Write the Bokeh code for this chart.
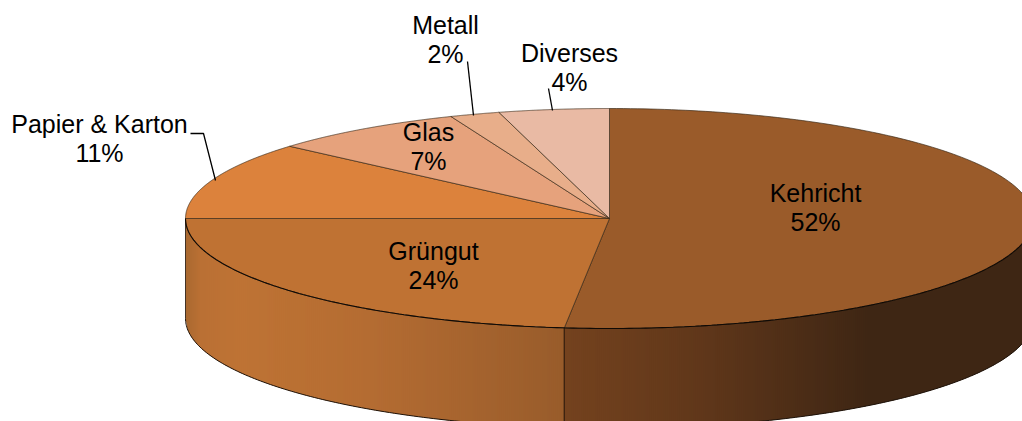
import numpy as np
from bokeh.plotting import figure
from bokeh.models import Range1d
from bokeh.core.properties import value
from bokeh.embed import file_html
from bokeh.resources import INLINE

categories = ["Kehricht", "Grüngut", "Papier & Karton", "Glas", "Metall", "Diverses"]
shares = [51.7, 23.3, 11.4, 7.5, 1.9, 4.2]
percent_labels = ["52%", "24%", "11%", "7%", "2%", "4%"]
top_colors = ["#9a5b2a", "#bf7233", "#dc823c", "#e6a27c", "#e8ae8a", "#e9baa4"]

label_x = [815, 433, 99, 428, 445, 569]
label_y = [192, 250, 123, 131, 24, 52]
line_gap = 29
leaders = [([190, 203, 215], [133, 133, 180]), ([467, 473], [61, 115]), ([548, 552], [88, 110])]

CX, CY, RX, RY, DEPTH = 609, 218, 424, 110, 100
grad_left = [(186, (170, 105, 48)), (200, (186, 112, 52)), (240, (190, 115, 52)), (370, (180, 108, 50)), (565, (152, 92, 43))]
grad_right = [(565, (116, 66, 30)), (700, (96, 55, 26)), (870, (62, 38, 20)), (1033, (62, 38, 20))]


def hexcol(c):
    return "#%02x%02x%02x" % tuple(int(round(v)) for v in c)


def grad(stops, x):
    xs = [s[0] for s in stops]
    return [np.interp(x, xs, [s[1][i] for s in stops]) for i in range(3)]


def lower(x):
    return CY + RY * np.sqrt(np.clip(1 - ((x - CX) / RX) ** 2, 0, 1))


p = figure(width=1022, height=421, x_range=Range1d(0, 1022), y_range=Range1d(421, 0),
           output_backend="svg", toolbar_location=None, min_border=0, outline_line_color=None)
p.axis.visible = False
p.grid.visible = False
p.background_fill_color = "white"
p.border_fill_color = "white"

# cumulative slice boundaries, clockwise from twelve o'clock
edges = np.radians(np.concatenate([[0], np.cumsum(shares)]) / sum(shares) * 360)
split_x = CX + RX * np.sin(edges[1])

# side wall as narrow vertical strips, each overlapped by the next to avoid seams
xs_all, ys_all, cs = [], [], []
for x0 in np.arange(CX - RX, CX + RX, 2.0):
    x1 = min(x0 + 4.0, CX + RX)
    mid = x0 + 1
    col = grad(grad_left if mid < split_x else grad_right, mid)
    a = np.linspace(x0, x1, 3)
    xs_all.append(list(a) + list(a[::-1]))
    ys_all.append(list(lower(a)) + list(lower(a[::-1]) + DEPTH))
    cs.append(hexcol(col))
p.patches(xs_all, ys_all, fill_color=cs, line_color=None)

# side wall outlines
t = np.radians(np.linspace(90, 270, 240))
p.line(CX + RX * np.sin(t), CY - RY * np.cos(t) + DEPTH, line_color="#1e130a", line_width=1)
for x in [CX - RX, split_x]:
    p.line([x, x], [lower(x), lower(x) + DEPTH], line_color="#1e130a", line_width=1, line_alpha=0.8)

# top face slices
for i in range(len(shares)):
    t = np.linspace(edges[i], edges[i + 1], 200)
    xs = np.concatenate([[CX], CX + RX * np.sin(t)])
    ys = np.concatenate([[CY], CY - RY * np.cos(t)])
    p.patch(xs, ys, fill_color=top_colors[i], line_color="#3a2a18", line_width=0.8, line_alpha=0.85)

# front rim of the top face
t = np.radians(np.linspace(90, 270, 240))
p.line(CX + RX * np.sin(t), CY - RY * np.cos(t), line_color="#100a05", line_width=1.1)

# leader lines
for lx, ly in leaders:
    p.line(lx, ly, line_color="black", line_width=1.3)

# labels
p.text(label_x, label_y, text=categories, text_align="center", text_baseline="middle",
       text_font=value("Liberation Sans"), text_font_size="25px", text_color="black")
p.text(label_x, [y + line_gap for y in label_y], text=percent_labels, text_align="center",
       text_baseline="middle", text_font=value("Liberation Sans"), text_font_size="25px", text_color="black")

open("out.html", "w").write(file_html(p, INLINE))
